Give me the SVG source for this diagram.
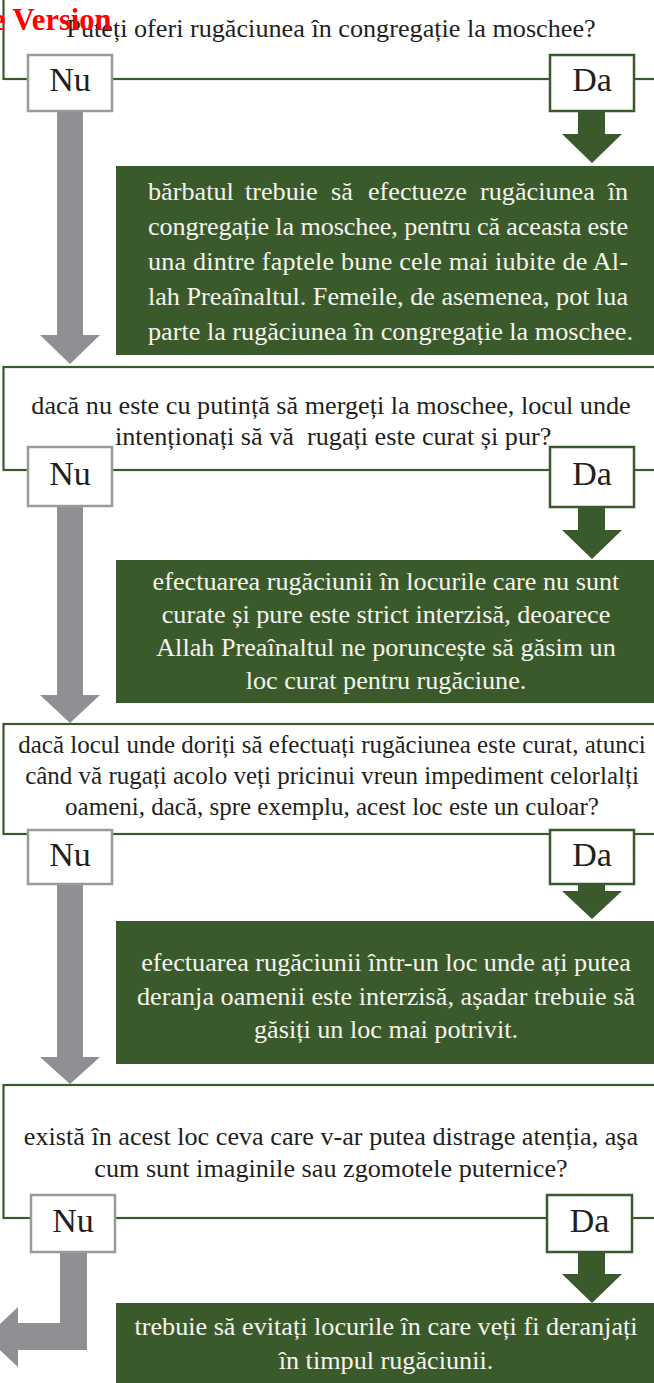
<svg xmlns="http://www.w3.org/2000/svg" width="654" height="1383" viewBox="0 0 654 1383">
<defs>
<style>
.frame{fill:none;stroke:#3b5a2c;stroke-width:2.2}
.q{font-family:"Liberation Serif","Times New Roman",serif;font-size:26.2px;fill:#231f20;text-anchor:middle}
.q3{font-size:25px}
.g{font-family:"Liberation Serif","Times New Roman",serif;font-size:26.2px;fill:#f4f4ee}
.gc{text-anchor:middle}
.gbox{fill:#3b5a2c}
.nu{fill:#fff;stroke:#999a9c;stroke-width:2.5}
.da{fill:#fff;stroke:#3b5a2c;stroke-width:2.5}
.lbl{font-family:"Liberation Serif","Times New Roman",serif;font-size:34px;fill:#231f20;text-anchor:middle}
.ga{fill:#8f9094}
.gr{fill:#3b5a2c}
</style>
</defs>
<rect width="654" height="1383" fill="#fff"/>

<g id="connectors">
  <polygon class="ga" points="57,111 83,111 83,335 100,335 70,364 40,335 57,335"/>
  <polygon class="ga" points="57,506 83,506 83,695 100,695 70,723 40,695 57,695"/>
  <polygon class="ga" points="57,884 83,884 83,1057 100,1057 70,1084 40,1057 57,1057"/>
  <polygon class="ga" points="60,1252 87,1252 87,1350 18,1350 18,1367 -14,1337 18,1307 18,1323 60,1323"/>
  <polygon class="gr" points="578,111 605,111 605,134 622,134 592,163 562,134 578,134"/>
  <polygon class="gr" points="578,507 605,507 605,530 622,530 592,559 562,530 578,530"/>
  <polygon class="gr" points="578,884 605,884 605,891 622,891 592,919 562,891 578,891"/>
  <polygon class="gr" points="578,1252 605,1252 605,1274 622,1274 592,1303 562,1274 578,1274"/>
</g>

<g id="q1">
  <rect class="frame" x="3.5" y="-20" width="670" height="99"/>
  <text class="q" x="331" y="37">Puteți oferi rugăciunea în congregație la moschee?</text>
</g>
<text x="-8" y="30" font-family="'Liberation Serif','Times New Roman',serif" font-size="30.5" font-weight="bold" fill="#ff0000">e Version</text>
<g id="nu1"><rect class="nu" x="28" y="55" width="84" height="56"/><text class="lbl" x="70" y="91">Nu</text></g>
<g id="da1"><rect class="da" x="550" y="55" width="84" height="56"/><text class="lbl" x="592" y="91">Da</text></g>

<g id="a1">
  <rect class="gbox" x="116" y="166" width="545" height="189"/>
  <text class="g"><tspan x="148" y="200">bărbatul</tspan><tspan x="245" y="200">trebuie</tspan><tspan x="331" y="200">să</tspan><tspan x="368" y="200">efectueze</tspan><tspan x="480" y="200">rugăciunea</tspan><tspan x="628" y="200" text-anchor="end">în</tspan></text>
  <text class="g" x="148" y="235" textLength="480" lengthAdjust="spacing">congregație la moschee, pentru că aceasta este</text>
  <text class="g" x="148" y="270" textLength="480" lengthAdjust="spacing">una dintre faptele bune cele mai iubite de Al-</text>
  <text class="g" x="148" y="305" textLength="480" lengthAdjust="spacing">lah Preaînaltul. Femeile, de asemenea, pot lua</text>
  <text class="g" x="148" y="340">parte la rugăciunea în congregație la moschee.</text>
</g>

<g id="q2">
  <rect class="frame" x="3.5" y="367" width="670" height="103"/>
  <text class="q" x="331" y="414">dacă nu este cu putință să mergeți la moschee, locul unde</text>
  <text class="q" x="115" y="445" style="text-anchor:start" xml:space="preserve">intenționați să vă  rugați este curat și pur?</text>
</g>
<g id="nu2"><rect class="nu" x="28" y="447" width="84" height="59"/><text class="lbl" x="70" y="485">Nu</text></g>
<g id="da2"><rect class="da" x="550" y="447" width="84" height="60"/><text class="lbl" x="592" y="485">Da</text></g>

<g id="a2">
  <rect class="gbox" x="116" y="560" width="545" height="143"/>
  <text class="g gc" x="386" y="590">efectuarea rugăciunii în locurile care nu sunt</text>
  <text class="g gc" x="386" y="623">curate și pure este strict interzisă, deoarece</text>
  <text class="g gc" x="386" y="656">Allah Preaînaltul ne poruncește să găsim un</text>
  <text class="g gc" x="386" y="689">loc curat pentru rugăciune.</text>
</g>

<g id="q3">
  <rect class="frame" x="3.5" y="724" width="670" height="110"/>
  <text class="q q3" x="332" y="753">dacă locul unde doriți să efectuați rugăciunea este curat, atunci</text>
  <text class="q q3" x="332" y="784">când vă rugați acolo veți pricinui vreun impediment celorlalți</text>
  <text class="q q3" x="332" y="815">oameni, dacă, spre exemplu, acest loc este un culoar?</text>
</g>
<g id="nu3"><rect class="nu" x="28" y="830" width="84" height="54"/><text class="lbl" x="70" y="866">Nu</text></g>
<g id="da3"><rect class="da" x="550" y="830" width="84" height="54"/><text class="lbl" x="592" y="866">Da</text></g>

<g id="a3">
  <rect class="gbox" x="116" y="921" width="545" height="143"/>
  <text class="g gc" x="386" y="971">efectuarea rugăciunii într-un loc unde ați putea</text>
  <text class="g gc" x="386" y="1005">deranja oamenii este interzisă, așadar trebuie să</text>
  <text class="g gc" x="386" y="1038">găsiți un loc mai potrivit.</text>
</g>

<g id="q4">
  <rect class="frame" x="3.5" y="1085" width="670" height="133"/>
  <text class="q" x="331" y="1145">există în acest loc ceva care v-ar putea distrage atenția, aşa</text>
  <text class="q" x="331" y="1177">cum sunt imaginile sau zgomotele puternice?</text>
</g>
<g id="nu4"><rect class="nu" x="31" y="1195" width="84" height="57"/><text class="lbl" x="73" y="1232">Nu</text></g>
<g id="da4"><rect class="da" x="547" y="1195" width="85" height="57"/><text class="lbl" x="589.5" y="1232">Da</text></g>

<g id="a4">
  <rect class="gbox" x="116" y="1303" width="545" height="90"/>
  <text class="g gc" x="386" y="1335">trebuie să evitați locurile în care veți fi deranjați</text>
  <text class="g gc" x="386" y="1369">în timpul rugăciunii.</text>
</g>
</svg>
